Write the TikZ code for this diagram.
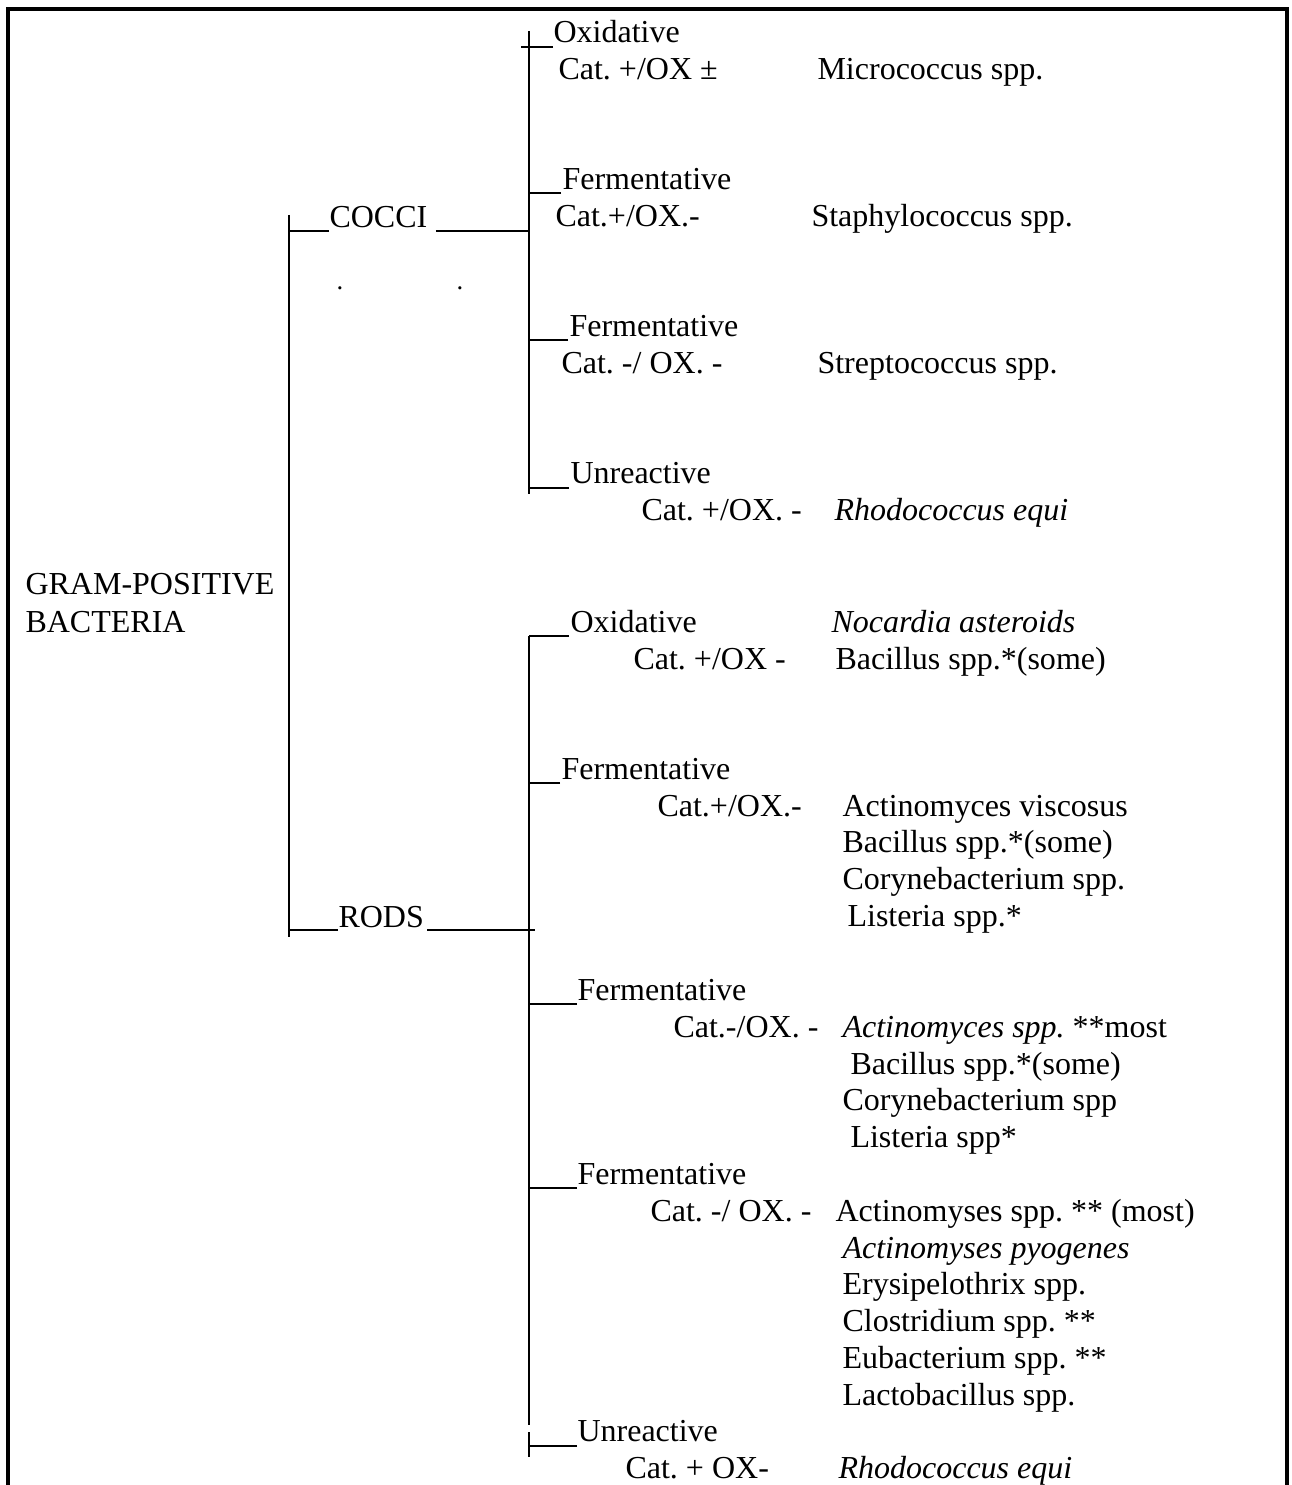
\documentclass[tikz,border=0pt]{standalone}
\usepackage{fontspec}
\setmainfont{Liberation Serif}
\frenchspacing
\usetikzlibrary{calc}
\tikzstyle{lbl} = [anchor=base west, inner sep=0pt, font=\fontsize{12}{14}\selectfont]
\tikzstyle{dot} = [anchor=base west, inner sep=0pt, font=\fontsize{10}{12}\selectfont]
\tikzstyle{branch} = [line width=1pt]
\tikzstyle{frame} = [line width=1.7pt, line join=miter]

\begin{document}
\begin{tikzpicture}[x=0.375pt, y=-0.375pt]
  \useasboundingbox (0,0) rectangle (1291,1485);

  % frame, open at the bottom
  \draw[frame] (8,1485) -- (8,9) -- (1287,9) -- (1287,1485);

  % root and first split
  \node[lbl] (gram) at (25,595) {GRAM-POSITIVE};
  \node[lbl] (bact) at (25,632) {BACTERIA};

  \coordinate (mtop) at (289,215);
  \coordinate (mbot) at (289,937);
  \node[lbl] (cocci) at (329,228) {COCCI};
  \node[lbl] (rods) at (338,927) {RODS};
  \node[dot] (dot1) at (336,290) {.};
  \node[dot] (dot2) at (456,290) {.};

  \draw[branch] (mtop) -- (mbot);
  \draw[branch] ($(cocci.base west)+(0,3)$) -- ($(mtop |- cocci.base)+(0,3)$);
  \draw[branch] ($(rods.base west)+(0,3)$) -- ($(mtop |- rods.base)+(0,3)$);

  % cocci
  \coordinate (ctop) at (529,31);
  \coordinate (cbot) at (529,494);
  \draw[branch] (ctop) -- (cbot);
  \draw[branch] ($(cocci.base east)+(8,3)$) -- ($(ctop |- cocci.base)+(0,3)$);

  \node[lbl] (cox) at (553,43) {Oxidative};
  \node[lbl] (coxc) at (558,80) {Cat. +/OX ±};
  \node[lbl] (coxs) at (817,80) {Micrococcus spp.};

  \node[lbl] (cfa) at (562,190) {Fermentative};
  \node[lbl] (cfac) at (555,227) {Cat.+/OX.-};
  \node[lbl] (cfas) at (811,227) {Staphylococcus spp.};

  \node[lbl] (cfb) at (569,337) {Fermentative};
  \node[lbl] (cfbc) at (561,374) {Cat. -/ OX. -};
  \node[lbl] (cfbs) at (817,374) {Streptococcus spp.};

  \node[lbl] (cun) at (570,484) {Unreactive};
  \node[lbl] (cunc) at (641,521) {Cat. +/OX. -};
  \node[lbl] (cuns) at (834,521) {\textit{Rhodococcus equi}};

  \draw[branch] ($(cox.base west)+(0,4)$) -- ($(ctop |- cox.base)+(-8,4)$);
  \draw[branch] ($(cfa.base west)+(-1,3)$) -- ($(ctop |- cfa.base)+(0,3)$);
  \draw[branch] ($(cfb.base west)+(-1,3)$) -- ($(ctop |- cfb.base)+(0,3)$);
  \draw[branch] ($(cun.base west)+(-1,4)$) -- ($(ctop |- cun.base)+(0,4)$);

  % rods
  \coordinate (rtop) at (529,636);
  \coordinate (rgap) at (529,1425);
  \coordinate (rgapb) at (529,1432);
  \coordinate (rbot) at (529,1457);
  \draw[branch] (rtop) -- (rgap);
  \draw[branch] (rgapb) -- (rbot);
  \draw[branch] ($(rods.base east)+(3,3)$) -- ($(rtop |- rods.base)+(6,3)$);

  \node[lbl] (rox) at (570,632) {Oxidative};
  \node[lbl] (roxa) at (831,632) {\textit{Nocardia asteroids}};
  \node[lbl] (roxc) at (633,669) {Cat. +/OX -};
  \node[lbl] (roxb) at (835,669) {Bacillus spp.*(some)};

  \node[lbl] (rfa) at (561,779) {Fermentative};
  \node[lbl] (rfac) at (657,816) {Cat.+/OX.-};
  \node[lbl] (rfa1) at (842,816) {Actinomyces viscosus};
  \node[lbl] (rfa2) at (842,852) {Bacillus spp.*(some)};
  \node[lbl] (rfa3) at (842,889) {Corynebacterium spp.};
  \node[lbl] (rfa4) at (847,926) {Listeria spp.*};

  \node[lbl] (rfb) at (577,1000) {Fermentative};
  \node[lbl] (rfbc) at (673,1037) {Cat.-/OX. -};
  \node[lbl] (rfb1) at (842,1037) {\textit{Actinomyces spp.} **most};
  \node[lbl] (rfb2) at (850,1074) {Bacillus spp.*(some)};
  \node[lbl] (rfb3) at (842,1110) {Corynebacterium spp};
  \node[lbl] (rfb4) at (850,1147) {Listeria spp*};

  \node[lbl] (rfc) at (577,1184) {Fermentative};
  \node[lbl] (rfcc) at (650,1221) {Cat. -/ OX. -};
  \node[lbl] (rfc1) at (835,1221) {Actinomyses spp. ** (most)};
  \node[lbl] (rfc2) at (842,1258) {\textit{Actinomyses pyogenes}};
  \node[lbl] (rfc3) at (842,1294) {Erysipelothrix spp.};
  \node[lbl] (rfc4) at (842,1331) {Clostridium spp. **};
  \node[lbl] (rfc5) at (842,1368) {Eubacterium spp. **};
  \node[lbl] (rfc6) at (842,1405) {Lactobacillus spp.};

  \node[lbl] (run) at (577,1441) {Unreactive};
  \node[lbl] (runc) at (625,1478) {Cat. + OX-};
  \node[lbl] (runs) at (838,1478) {\textit{Rhodococcus equi}};

  \draw[branch] ($(rox.base west)+(-1,4)$) -- ($(rtop |- rox.base)+(0,4)$);
  \draw[branch] ($(rfa.base west)+(-1,4)$) -- ($(rtop |- rfa.base)+(0,4)$);
  \draw[branch] ($(rfb.base west)+(0,4)$) -- ($(rtop |- rfb.base)+(0,4)$);
  \draw[branch] ($(rfc.base west)+(0,4)$) -- ($(rtop |- rfc.base)+(0,4)$);
  \draw[branch] ($(run.base west)+(0,5)$) -- ($(rtop |- run.base)+(0,5)$);

\end{tikzpicture}
\end{document}
